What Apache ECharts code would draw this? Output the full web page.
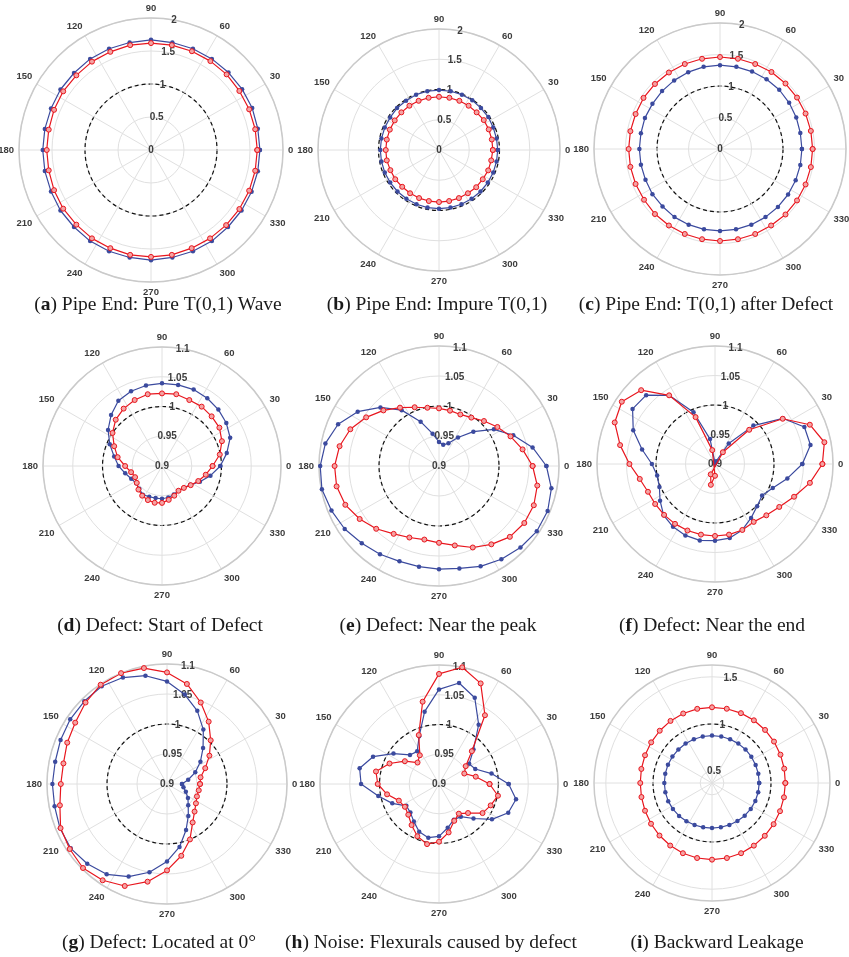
<!DOCTYPE html>
<html><head><meta charset="utf-8">
<script src="https://cdn.jsdelivr.net/npm/echarts@6/dist/echarts.min.js"></script>
<style>html,body{margin:0;padding:0;background:#fff}#c{width:849px;height:957px}</style>
</head><body><div id="c"></div>
<script>
// 32 measurement angles (degrees)
const ANGLES = [0,11.25,22.5,33.75,45,56.25,67.5,78.75,90,101.25,112.5,123.75,135,146.25,157.5,168.75,
  180,191.25,202.5,213.75,225,236.25,247.5,258.75,270,281.25,292.5,303.75,315,326.25,337.5,348.75];
const ANGLE_TICKS = [0,30,60,90,120,150,180,210,240,270,300,330];

const A_BLUE = [1.65,1.65,1.66,1.66,1.66,1.66,1.66,1.66,1.67,1.66,1.66,1.66,1.65,1.65,1.64,1.64,1.64,1.64,1.64,1.65,1.65,1.66,1.66,1.66,1.67,1.66,1.66,1.66,1.65,1.65,1.65,1.65];
const A_RED  = [1.61,1.61,1.61,1.61,1.62,1.62,1.62,1.62,1.62,1.62,1.61,1.61,1.60,1.60,1.59,1.58,1.58,1.58,1.59,1.60,1.60,1.61,1.61,1.62,1.62,1.62,1.61,1.61,1.61,1.61,1.61,1.61];
const B_BLUE = [0.97,0.97,0.97,0.98,0.98,0.99,0.99,0.99,0.99,0.99,0.99,0.98,0.98,0.97,0.97,0.97,0.97,0.97,0.97,0.97,0.97,0.97,0.97,0.97,0.97,0.97,0.97,0.97,0.97,0.97,0.97,0.97];
const B_RED  = [0.89,0.89,0.89,0.89,0.88,0.88,0.88,0.88,0.88,0.88,0.88,0.88,0.88,0.88,0.88,0.88,0.88,0.88,0.87,0.87,0.86,0.86,0.86,0.86,0.86,0.86,0.86,0.86,0.87,0.87,0.88,0.88];
const C_BLUE = [1.30,1.30,1.31,1.32,1.33,1.33,1.33,1.33,1.33,1.33,1.32,1.31,1.30,1.29,1.29,1.28,1.28,1.28,1.28,1.29,1.29,1.30,1.30,1.30,1.30,1.30,1.30,1.30,1.30,1.30,1.30,1.30];
const C_RED  = [1.47,1.47,1.47,1.47,1.47,1.47,1.46,1.46,1.46,1.46,1.46,1.46,1.46,1.46,1.45,1.45,1.45,1.45,1.45,1.45,1.46,1.46,1.46,1.46,1.46,1.46,1.46,1.46,1.47,1.47,1.47,1.47];
const D_BLUE = [0.998,1.011,1.024,1.030,1.034,1.037,1.039,1.039,1.039,1.038,1.036,1.032,1.021,1.009,0.995,0.982,0.973,0.963,0.956,0.952,0.954,0.958,0.956,0.955,0.955,0.954,0.952,0.950,0.952,0.957,0.969,0.983];
const D_RED  = [0.985,0.999,1.009,1.016,1.018,1.020,1.020,1.023,1.022,1.023,1.020,1.016,1.010,1.000,0.987,0.976,0.962,0.953,0.949,0.951,0.956,0.960,0.962,0.963,0.962,0.958,0.954,0.950,0.952,0.958,0.966,0.975];
const E_BLUE = [1.079,1.059,1.034,1.010,0.981,0.957,0.941,0.936,0.940,0.955,0.980,1.012,1.038,1.063,1.082,1.093,1.098,1.099,1.094,1.089,1.082,1.077,1.072,1.071,1.072,1.074,1.081,1.087,1.092,1.096,1.096,1.091];
const E_RED  = [1.056,1.042,1.029,1.017,1.006,0.997,0.993,0.994,0.996,0.999,1.006,1.017,1.031,1.046,1.060,1.069,1.074,1.074,1.069,1.059,1.048,1.036,1.029,1.025,1.028,1.035,1.047,1.057,1.067,1.071,1.071,1.067];
const F_BLUE = [1.048,1.065,1.064,1.039,0.992,0.942,0.905,0.901,0.903,0.943,0.995,1.040,1.065,1.068,1.050,1.026,1.007,1.000,1.002,1.012,1.023,1.028,1.031,1.032,1.030,1.028,1.021,1.010,1.001,0.996,1.006,1.025];
const F_RED  = [1.082,1.089,1.074,1.038,0.982,0.924,0.881,0.864,0.880,0.924,0.986,1.040,1.077,1.090,1.084,1.064,1.045,1.030,1.023,1.022,1.022,1.022,1.022,1.022,1.022,1.022,1.021,1.018,1.023,1.031,1.045,1.064];
const G_BLUE = [0.925,0.936,0.951,0.967,0.985,1.009,1.032,1.052,1.071,1.084,1.092,1.096,1.095,1.094,1.092,1.090,1.091,1.091,1.093,1.093,1.088,1.081,1.067,1.050,1.029,1.007,0.983,0.964,0.950,0.942,0.934,0.928];
const G_RED  = [0.955,0.957,0.969,0.985,1.003,1.025,1.047,1.070,1.086,1.097,1.100,1.099,1.092,1.084,1.080,1.076,1.077,1.082,1.092,1.095,1.098,1.093,1.084,1.066,1.044,1.022,1.000,0.977,0.965,0.958,0.954,0.954];
const H_BLUE = [1.017,0.990,0.966,0.961,0.982,1.020,1.057,1.073,1.059,1.024,0.987,0.966,0.969,0.992,1.020,1.036,1.031,1.004,0.985,0.966,0.968,0.976,0.987,0.992,0.988,0.975,0.965,0.966,0.982,1.007,1.026,1.032];
const H_RED  = [0.985,0.963,0.946,0.954,0.978,1.039,1.083,1.100,1.085,1.041,0.989,0.958,0.951,0.969,0.990,1.008,1.003,0.989,0.973,0.969,0.973,0.983,0.995,1.003,0.997,0.983,0.967,0.960,0.969,0.988,0.994,1.001];
const I_BLUE = [0.875,0.875,0.875,0.876,0.877,0.877,0.877,0.877,0.877,0.877,0.877,0.878,0.878,0.879,0.880,0.880,0.880,0.879,0.877,0.873,0.868,0.862,0.857,0.854,0.852,0.853,0.856,0.860,0.865,0.869,0.872,0.874];
const I_RED  = [1.152,1.155,1.160,1.165,1.170,1.174,1.176,1.177,1.177,1.176,1.172,1.166,1.158,1.150,1.143,1.138,1.135,1.137,1.143,1.152,1.162,1.172,1.180,1.185,1.187,1.185,1.180,1.173,1.166,1.160,1.155,1.152];

const RADIUS_TICKS_FULL = [0, 0.5, 1, 1.5, 2];
const RADIUS_TICKS_FINE = [0.9, 0.95, 1, 1.05, 1.1];
const RADIUS_TICKS_LEAK = [0.5, 1, 1.5];

const T = 'rgba(0,0,0,0)';
const GRID = '#e0e0e0';
const SCALES = {
  full: {min: 0, max: 2, interval: 0.5, grid: [GRID], dash: [T, T, '#111', T, T], labels: RADIUS_TICKS_FULL},
  fine: {min: 0.9, max: 1.1, interval: 0.05, grid: [GRID], dash: [T, T, '#111', T, T], labels: RADIUS_TICKS_FINE},
  leak: {min: 0.375, max: 1.625, interval: 0.125, grid: [T, GRID, T, T],
         dash: [T, T, T, T, T, '#111', T, T, T, T, T], labels: RADIUS_TICKS_LEAK}
};

const PANELS = [
  {letter: 'a', text: ' Pipe End: Pure T(0,1) Wave', blue: A_BLUE, red: A_RED, scale: 'full', c: [151, 150], r: 132, cap: [158, 305]},
  {letter: 'b', text: ' Pipe End: Impure T(0,1)', blue: B_BLUE, red: B_RED, scale: 'full', c: [439, 150], r: 121, cap: [437, 305]},
  {letter: 'c', text: ' Pipe End: T(0,1) after Defect', blue: C_BLUE, red: C_RED, scale: 'full', c: [720, 149], r: 126, cap: [706, 305]},
  {letter: 'd', text: ' Defect: Start of Defect', blue: D_BLUE, red: D_RED, scale: 'fine', c: [162, 466], r: 119, cap: [160, 626]},
  {letter: 'e', text: ' Defect: Near the peak', blue: E_BLUE, red: E_RED, scale: 'fine', c: [439, 466], r: 120, cap: [438, 626]},
  {letter: 'f', text: ' Defect: Near the end', blue: F_BLUE, red: F_RED, scale: 'fine', c: [715, 464], r: 118, cap: [712, 626]},
  {letter: 'g', text: ' Defect: Located at 0°', blue: G_BLUE, red: G_RED, scale: 'fine', c: [167, 784], r: 120, cap: [159, 943]},
  {letter: 'h', text: ' Noise: Flexurals caused by defect', blue: H_BLUE, red: H_RED, scale: 'fine', c: [439, 784], r: 119, cap: [431, 943]},
  {letter: 'i', text: ' Backward Leakage', blue: I_BLUE, red: I_RED, scale: 'leak', c: [712, 783], r: 118, cap: [717, 943]}
];

const BLUE = '#3b4a9e';
const RED = '#e8161e';
const LABEL = {fontSize: 9.5, fontWeight: 'bold', color: '#3c3c3c', fontFamily: 'Liberation Sans'};

function pts(vals) {
  const d = vals.map((v, i) => [v, ANGLES[i] < 90 ? ANGLES[i] + 360 : ANGLES[i]]);
  d.push(d[0].slice());
  return d;
}

const polar = [], angleAxis = [], radiusAxis = [], series = [], graphic = [];
PANELS.forEach((p, k) => {
  const s = SCALES[p.scale];
  const pi = 2 * k, li = 2 * k + 1;
  polar.push({center: p.c, radius: p.r});
  polar.push({center: p.c, radius: p.r});
  angleAxis.push({
    polarIndex: pi, type: 'value', min: 90, max: 450, interval: 30, startAngle: 90, clockwise: false,
    axisLine: {lineStyle: {color: '#cacaca', width: 1.5}},
    axisTick: {show: false},
    axisLabel: Object.assign({margin: 5, formatter: v => ANGLE_TICKS.includes(Math.round(v) % 360) ? String(Math.round(v) % 360) : ''}, LABEL),
    splitLine: {show: true, lineStyle: {color: GRID, width: 1}}
  });
  radiusAxis.push({
    polarIndex: pi, type: 'value', min: s.min, max: s.max, interval: s.interval,
    axisLine: {show: false}, axisTick: {show: false}, axisLabel: {show: false},
    splitLine: {show: true, lineStyle: {color: s.grid, width: 1}}
  });
  angleAxis.push({polarIndex: li, type: 'value', min: 0, max: 360, startAngle: 80, clockwise: false, show: false});
  radiusAxis.push({
    polarIndex: li, type: 'value', min: s.min, max: s.max, interval: s.interval,
    axisLine: {show: false}, axisTick: {show: false},
    axisLabel: Object.assign({margin: 0, align: 'center', verticalAlign: 'middle',
      formatter: v => { const q = Math.round(v * 1000) / 1000; return s.labels.includes(q) ? String(q) : ''; }}, LABEL, {fontSize: 10}),
    splitLine: {show: true, lineStyle: {color: s.dash, width: 1.2, type: [4, 3]}}
  });
  series.push({
    type: 'line', coordinateSystem: 'polar', polarIndex: pi, data: pts(p.blue), clip: false,
    symbol: 'circle', symbolSize: 4.5, showSymbol: true,
    lineStyle: {color: BLUE, width: 1.2}, itemStyle: {color: BLUE}, z: 3
  });
  series.push({
    type: 'line', coordinateSystem: 'polar', polarIndex: pi, data: pts(p.red), clip: false,
    symbol: 'circle', symbolSize: 5, showSymbol: true,
    lineStyle: {color: RED, width: 1.2}, itemStyle: {color: '#f4a3a3', borderColor: RED, borderWidth: 1}, z: 4
  });
  graphic.push({
    type: 'text', x: p.cap[0], y: p.cap[1], silent: true,
    style: {
      text: '({b|' + p.letter + '})' + p.text,
      fill: '#1a1a1a', font: '19.5px "Liberation Serif"', textAlign: 'center', textVerticalAlign: 'middle',
      rich: {b: {fontWeight: 'bold', fontSize: 19.5, fontFamily: 'Liberation Serif', fill: '#1a1a1a'}}
    }
  });
});

const chart = echarts.init(document.getElementById('c'), null, {renderer: 'canvas'});
chart.setOption({
  animation: false,
  backgroundColor: '#fff',
  polar, angleAxis, radiusAxis, series, graphic
});
</script></body></html>
